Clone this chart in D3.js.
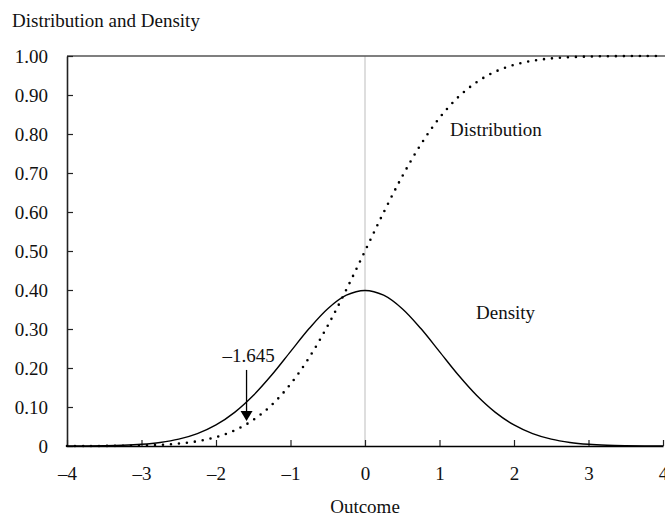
<!DOCTYPE html>
<html>
<head>
<meta charset="utf-8">
<script src="https://cdn.jsdelivr.net/npm/d3@7"></script>
<style>
  body { margin: 0; background: #fff; }
  text { font-family: 'Liberation Serif', 'Times New Roman', serif; fill: #111; }
</style>
</head>
<body>
<div id="chart"></div>
<script>
(function() {

  // values
  const outcomes = [-4, -3.75, -3.5, -3.25, -3, -2.75, -2.5, -2.25, -2, -1.75, -1.5, -1.25, -1, -0.75, -0.5, -0.25,
    0, 0.25, 0.5, 0.75, 1, 1.25, 1.5, 1.75, 2, 2.25, 2.5, 2.75, 3, 3.25, 3.5, 3.75, 4];
  const density = [0.0001, 0.0004, 0.0009, 0.0020, 0.0044, 0.0091, 0.0175, 0.0317, 0.0540, 0.0863, 0.1295, 0.1826,
    0.2420, 0.3011, 0.3521, 0.3867, 0.3989, 0.3867, 0.3521, 0.3011, 0.2420, 0.1826, 0.1295, 0.0863, 0.0540,
    0.0317, 0.0175, 0.0091, 0.0044, 0.0020, 0.0009, 0.0004, 0.0001];
  const distribution = [0.0000, 0.0001, 0.0002, 0.0006, 0.0013, 0.0030, 0.0062, 0.0122, 0.0228, 0.0401, 0.0668,
    0.1056, 0.1587, 0.2266, 0.3085, 0.4013, 0.5000, 0.5987, 0.6915, 0.7734, 0.8413, 0.8944, 0.9332, 0.9599,
    0.9772, 0.9878, 0.9938, 0.9970, 0.9987, 0.9994, 0.9998, 0.9999, 1.0000];
  const xTicks = [-4, -3, -2, -1, 0, 1, 2, 3, 4];
  const yTicks = [0, 0.1, 0.2, 0.3, 0.4, 0.5, 0.6, 0.7, 0.8, 0.9, 1.0];
  const critical = { label: '\u20131.645', x: -1.59, yFrom: 0.195, yTo: 0.064, labelY: 0.215 };

  const size = { x: 665, y: 517 };
  const plot = { left: 67, right: 663, top: 56, bottom: 446 };
  const fontSize = 19;

  let svg = d3.select('#chart')
    .append('svg')
    .attr('width', size.x)
    .attr('height', size.y);

  let xScale = d3.scaleLinear()
    .domain([-4, 4])
    .range([plot.left, plot.right]);

  let yScale = d3.scaleLinear()
    .domain([0, 1])
    .range([plot.bottom, plot.top]);

  // title
  svg.append('text')
    .attr('x', 12)
    .attr('y', 27)
    .attr('font-size', fontSize)
    .text('Distribution and Density');

  // x axis title
  svg.append('text')
    .attr('x', xScale(0))
    .attr('y', 513)
    .attr('text-anchor', 'middle')
    .attr('font-size', fontSize)
    .text('Outcome');

  // grey reference line at zero
  svg.append('line')
    .attr('x1', xScale(0)).attr('x2', xScale(0))
    .attr('y1', yScale(0)).attr('y2', yScale(1))
    .attr('stroke', '#c8c8c8')
    .attr('stroke-width', 1.2);

  // top frame line
  svg.append('line')
    .attr('x1', plot.left).attr('x2', size.x)
    .attr('y1', yScale(1)).attr('y2', yScale(1))
    .attr('stroke', '#555')
    .attr('stroke-width', 1.5);

  let yAxis = svg.append('g')
    .attr('transform', `translate(${plot.left}, 0)`)
    .call(d3.axisLeft(yScale)
      .tickValues(yTicks)
      .tickSizeInner(-6)
      .tickSizeOuter(0)
      .tickPadding(19)
      .tickFormat(d => d === 0 ? '0' : d3.format('.2f')(d)));

  let xAxis = svg.append('g')
    .attr('transform', `translate(0, ${plot.bottom})`)
    .call(d3.axisBottom(xScale)
      .tickValues(xTicks)
      .tickSizeInner(-6)
      .tickSizeOuter(0)
      .tickPadding(21)
      .tickFormat(d => d < 0 ? '\u2013' + Math.abs(d) : String(d)));

  [yAxis, xAxis].forEach(ax => {
    ax.select('.domain').attr('stroke', '#222').attr('stroke-width', 1.6);
    ax.selectAll('.tick line').attr('stroke', '#222').attr('stroke-width', 1.2);
    ax.selectAll('.tick text')
      .attr('font-size', fontSize)
      .attr('font-family', "'Liberation Serif', 'Times New Roman', serif")
      .attr('fill', '#111');
  });
  xAxis.select('.domain').attr('stroke', '#000');

  const points = outcomes.map((x, i) => ({ x: x, pdf: density[i], cdf: distribution[i] }));

  const densityLine = d3.line()
    .x(d => xScale(d.x))
    .y(d => yScale(d.pdf))
    .curve(d3.curveCatmullRom);

  const distLine = d3.line()
    .x(d => xScale(d.x))
    .y(d => yScale(d.cdf))
    .curve(d3.curveCatmullRom);

  svg.append('path')
    .datum(points)
    .attr('d', distLine)
    .attr('fill', 'none')
    .attr('stroke', '#000')
    .attr('stroke-width', 2.6)
    .attr('stroke-linecap', 'round')
    .attr('stroke-dasharray', '0 8');

  svg.append('path')
    .datum(points)
    .attr('d', densityLine)
    .attr('fill', 'none')
    .attr('stroke', '#000')
    .attr('stroke-width', 1.4);

  // curve labels
  svg.append('text')
    .attr('x', 450)
    .attr('y', 136)
    .attr('font-size', fontSize)
    .text('Distribution');

  svg.append('text')
    .attr('x', 476)
    .attr('y', 319)
    .attr('font-size', fontSize)
    .text('Density');

  // critical value arrow
  const ax = xScale(critical.x);
  const tipY = yScale(critical.yTo);
  svg.append('line')
    .attr('x1', ax).attr('x2', ax)
    .attr('y1', yScale(critical.yFrom)).attr('y2', tipY - 8)
    .attr('stroke', '#000')
    .attr('stroke-width', 1.3);
  svg.append('path')
    .attr('d', `M${ax - 6},${tipY - 10} L${ax + 6},${tipY - 10} L${ax},${tipY} Z`)
    .attr('fill', '#000');
  svg.append('text')
    .attr('x', ax + 2)
    .attr('y', yScale(critical.labelY))
    .attr('text-anchor', 'middle')
    .attr('font-size', fontSize)
    .text(critical.label);

}());
</script>
</body>
</html>
